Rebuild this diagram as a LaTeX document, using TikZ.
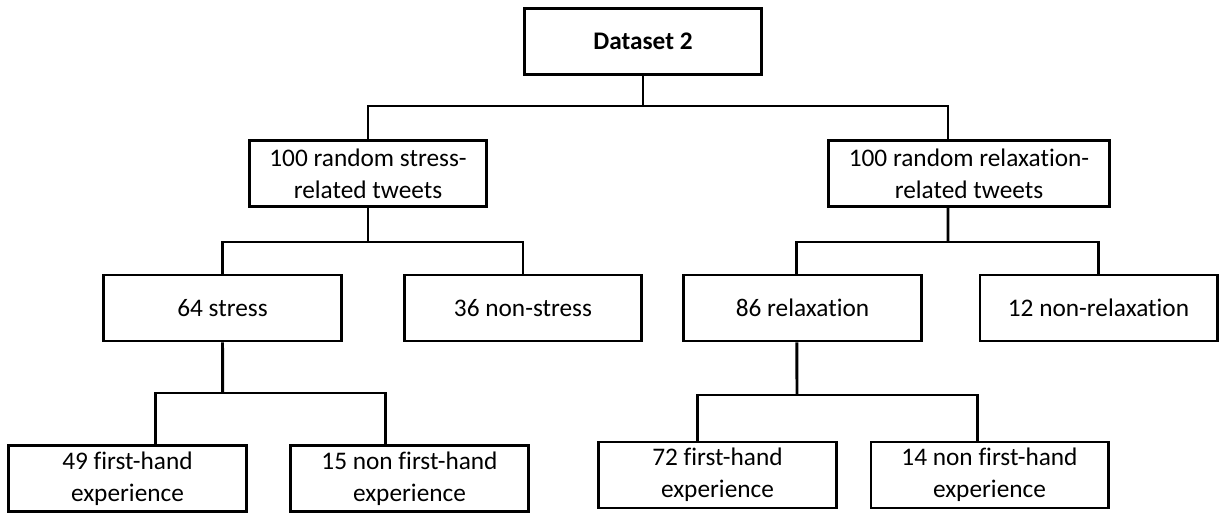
\documentclass[tikz,border=0pt]{standalone}
\usepackage{fontspec}
\setmainfont{Carlito}[Ligatures=NoCommon,RawFeature=-liga]
\begin{document}
\begin{tikzpicture}[x=0.025cm,y=-0.025cm,line width=2.1pt,
box/.style = {draw, line width=2.1pt, minimum width=5.925cm, minimum height=1.65cm, inner sep=0pt, align=center, font=\fontsize{18}{22.5}\selectfont},]
\useasboundingbox (0,0) rectangle (1225,514);
\node (D) at (643,41.5)[box,font=\fontsize{18}{22.5}\selectfont\bfseries] {Dataset 2};
\node (S) at (368,173.5)[box] {100 random stress-\\related tweets};
\node (R) at (969,173.5)[box,minimum width=7.025cm] {100 random relaxation-\\related tweets};
\node (S1) at (222.5,308)[box] {64 stress};
\node (S2) at (523,308)[box] {36 non-stress};
\node (R1) at (802.5,308)[box] {86 relaxation};
\node (R2) at (1098.5,308)[box] {12 non-relaxation};
\node (S11) at (127.5,478.5)[box] {49 first-hand\\experience};
\node (S12) at (409.5,478.5)[box] {15 non first-hand\\experience};
\node (R11) at (717.5,475)[box] {72 first-hand\\experience};
\node (R12) at (989.5,475)[box] {14 non first-hand\\experience};
\coordinate (j0) at (643,106);
\coordinate (jS) at (368,242);
\coordinate (jR) at (948,242);
\coordinate (jS1) at (222.7,393);
\coordinate (jR1) at (797,395);
\draw (D.south)--(j0);
\draw (S.north) |- (j0) -| ([xshift=-0.525cm]R.north);
\draw (S.south)--(jS);
\draw (S1.north) |- (jS) -| (S2.north);
\draw ([xshift=-0.525cm]R.south)--(jR);
\draw ([xshift=-0.14cm]R1.north) |- (jR) -| (R2.north);
\draw (S1.south)--(jS1);
\draw ([xshift=0.69cm]S11.north) |- (jS1) -| ([xshift=-0.59cm]S12.north);
\draw ([xshift=-0.14cm]R1.south)--(jR1);
\draw ([xshift=-0.49cm]R11.north) |- (jR1) -| ([xshift=-0.29cm]R12.north);
\end{tikzpicture}
\end{document}
